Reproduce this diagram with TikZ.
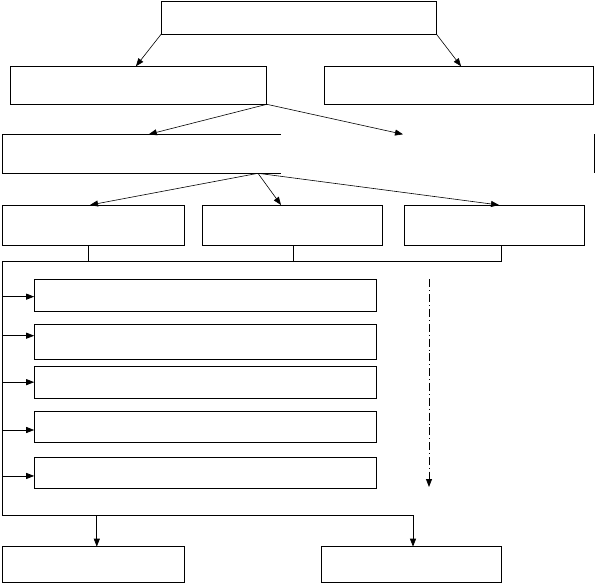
\documentclass[tikz,border=0pt]{standalone}
\usetikzlibrary{arrows.meta,calc}
\begin{document}
\begin{tikzpicture}[x=1pt,y=-1pt,
  line width=0.8pt,
  box/.style={draw,line width=0.9pt,inner sep=0pt,outer sep=0pt,anchor=north west,minimum width=#1},
  arr/.style={-{Triangle[length=8pt,width=6pt]}},
  thinarr/.style={line width=0.6pt,-{Triangle[length=8pt,width=6pt]}}]
\useasboundingbox (0,0) rectangle (595,583);
% boxes
\node[box=275pt,minimum height=33pt] (top) at (161.3,1) {};
\node[box=256.6pt,minimum height=38pt] (l2a) at (10.2,66.3) {};
\node[box=268.6pt,minimum height=38pt] (l2b) at (324.9,66.3) {};
\node[inner sep=0pt,outer sep=0pt,anchor=north west,minimum width=591.3pt,minimum height=39pt] (r3) at (2.7,134.3) {};
\node[box=181.3pt,minimum height=40.7pt] (r4a) at (2.7,205) {};
\node[box=180.2pt,minimum height=40.7pt] (r4b) at (202.3,205) {};
\node[box=180.2pt,minimum height=40.7pt] (r4c) at (404.2,205) {};
\node[box=342.7pt,minimum height=31.7pt] (bA) at (34.2,279.3) {};
\node[box=342.7pt,minimum height=35pt] (bB) at (34.2,324.3) {};
\node[box=342.7pt,minimum height=32.3pt] (bC) at (34.2,366) {};
\node[box=342.7pt,minimum height=31.4pt] (bD) at (34.2,411.3) {};
\node[box=342.7pt,minimum height=31.3pt] (bE) at (34.2,457) {};
\node[box=181.3pt,minimum height=35.6pt] (f1) at (2.7,546.7) {};
\node[box=180.3pt,minimum height=35.6pt] (f2) at (321.4,546.7) {};
% partial edges of row 3
\draw[line width=0.9pt] ([xshift=278.1pt]r3.north west) -- (r3.north west) -- (r3.south west) -- ([xshift=278.1pt]r3.south west);
\draw[line width=0.9pt] (r3.north east) -- (r3.south east);
% coordinates
\coordinate (busTL) at (2.7,261);
\coordinate (busBL) at (2.7,515.3);
\coordinate (j1) at (96.8,515.3);
\coordinate (j2) at (413,515.3);
\coordinate (dd1) at (429,279.3);
\coordinate (dd2) at (429,487);
% top arrows
\draw[thinarr] (top.south west) -- ([xshift=125.7pt]l2a.north west);
\draw[thinarr] (top.south east) -- ([xshift=136.2pt]l2b.north west);
% from l2a
\draw[thinarr] (l2a.south east) -- ([xshift=146.1pt]r3.north west);
\draw[thinarr] (l2a.south east) -- ([xshift=400.3pt]r3.north west);
% from r3
\draw[thinarr] ([xshift=255.3pt]r3.south west) -- ([xshift=87.3pt]r4a.north west);
\draw[thinarr] ([xshift=255.3pt]r3.south west) -- ([xshift=78.7pt]r4b.north west);
\draw[thinarr] ([xshift=255.3pt]r3.south west) -- ([xshift=94.8pt]r4c.north west);
% bus
\draw ([xshift=86.1pt]r4a.south west) -- ([xshift=86.1pt]r4a.south west |- busTL);
\draw ([xshift=91.1pt]r4b.south west) -- ([xshift=91.1pt]r4b.south west |- busTL);
\draw ([xshift=97.5pt]r4c.south west) |- (busTL) -- (busBL) -- (j2);
% side arrows
\draw[arr] ([yshift=-1.5pt]bA.west -| busTL) -- ([yshift=-1.5pt]bA.west);
\draw[arr] ([yshift=6.1pt]bB.west -| busTL) -- ([yshift=6.1pt]bB.west);
\draw[arr] (bC.west -| busTL) -- (bC.west);
\draw[arr] ([yshift=-3pt]bD.west -| busTL) -- ([yshift=-3pt]bD.west);
\draw[arr] ([yshift=-3.3pt]bE.west -| busTL) -- ([yshift=-3.3pt]bE.west);
% bottom arrows
\draw[arr] (j1) -- (j1 |- f1.north);
\draw[arr] (j2) -- (j2 |- f2.north);
% dash-dot
\draw[line width=0.8pt,-{Triangle[length=8pt,width=6pt]},dash pattern=on 8pt off 3pt on 0.8pt off 3pt] (dd1) -- (dd2);
\end{tikzpicture}
\end{document}
